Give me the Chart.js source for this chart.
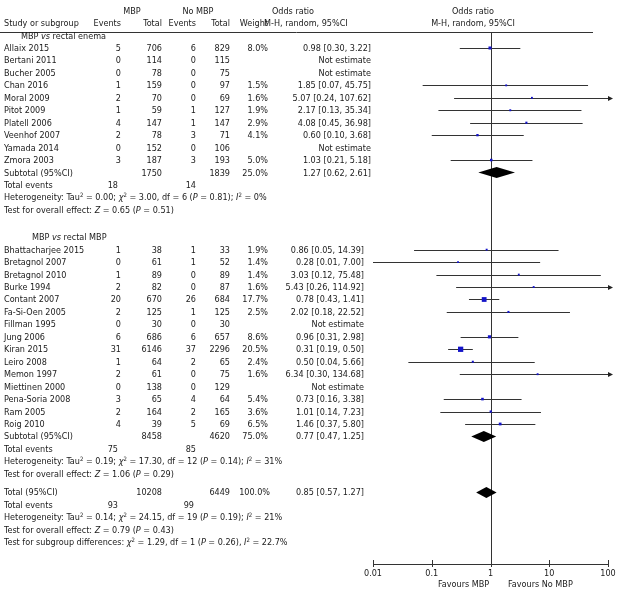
<!DOCTYPE html>
<html>
<head>
<meta charset="utf-8">
<script src="https://cdn.jsdelivr.net/npm/chart.js@4.4.1/dist/chart.umd.min.js"></script>
<style>
  body { margin: 0; background: #fff; }
  #wrap { position: relative; width: 620px; height: 591px; font-family: "DejaVu Sans Condensed", "DejaVu Sans", sans-serif; font-size: 9px; color: #1a1a1a; }
  #forest { position: absolute; left: 0; top: 0; }
  .t { position: absolute; white-space: nowrap; line-height: 12px; height: 12px; }
  sup { font-size: 6px; line-height: 0; vertical-align: 3px; }
</style>
</head>
<body>
<div id="wrap">
  <canvas id="forest" width="620" height="591"></canvas>
  <div id="cells"></div>
</div>
<script>
// MBP vs rectal enema
const group1Studies = ['Allaix 2015', 'Bertani 2011', 'Bucher 2005', 'Chan 2016', 'Moral 2009', 'Pitot 2009', 'Platell 2006', 'Veenhof 2007', 'Yamada 2014', 'Zmora 2003'];
const group1MbpEvents = [5, 0, 0, 1, 2, 1, 4, 2, 0, 3];
const group1MbpTotal = [706, 114, 78, 159, 70, 59, 147, 78, 152, 187];
const group1NoEvents = [6, 0, 0, 0, 0, 1, 1, 3, 0, 3];
const group1NoTotal = [829, 115, 75, 97, 69, 127, 147, 71, 106, 193];
const group1Weight = [8.0, null, null, 1.5, 1.6, 1.9, 2.9, 4.1, null, 5.0];
const group1OR = [0.98, null, null, 1.85, 5.07, 2.17, 4.08, 0.60, null, 1.03];
const group1Lo = [0.30, null, null, 0.07, 0.24, 0.13, 0.45, 0.10, null, 0.21];
const group1Hi = [3.22, null, null, 45.75, 107.62, 35.34, 36.98, 3.68, null, 5.18];

// MBP vs rectal MBP
const group2Studies = ['Bhattacharjee 2015', 'Bretagnol 2007', 'Bretagnol 2010', 'Burke 1994', 'Contant 2007', 'Fa-Si-Oen 2005', 'Fillman 1995', 'Jung 2006', 'Kiran 2015', 'Leiro 2008', 'Memon 1997', 'Miettinen 2000', 'Pena-Soria 2008', 'Ram 2005', 'Roig 2010'];
const group2MbpEvents = [1, 0, 1, 2, 20, 2, 0, 6, 31, 1, 2, 0, 3, 2, 4];
const group2MbpTotal = [38, 61, 89, 82, 670, 125, 30, 686, 6146, 64, 61, 138, 65, 164, 39];
const group2NoEvents = [1, 1, 0, 0, 26, 1, 0, 6, 37, 2, 0, 0, 4, 2, 5];
const group2NoTotal = [33, 52, 89, 87, 684, 125, 30, 657, 2296, 65, 75, 129, 64, 165, 69];
const group2Weight = [1.9, 1.4, 1.4, 1.6, 17.7, 2.5, null, 8.6, 20.5, 2.4, 1.6, null, 5.4, 3.6, 6.5];
const group2OR = [0.86, 0.28, 3.03, 5.43, 0.78, 2.02, null, 0.96, 0.31, 0.50, 6.34, null, 0.73, 1.01, 1.46];
const group2Lo = [0.05, 0.01, 0.12, 0.26, 0.43, 0.18, null, 0.31, 0.19, 0.04, 0.30, null, 0.16, 0.14, 0.37];
const group2Hi = [14.39, 7.00, 75.48, 114.92, 1.41, 22.52, null, 2.98, 0.50, 5.66, 134.68, null, 3.38, 7.23, 5.80];

// subtotals per group
const subgroupNames = ['MBP <i>vs</i> rectal enema', 'MBP <i>vs</i> rectal MBP'];
const subtotalMbpTotal = [1750, 8458];
const subtotalNoTotal = [1839, 4620];
const subtotalWeight = [25.0, 75.0];
const subtotalOR = [1.27, 0.77];
const subtotalLo = [0.62, 0.47];
const subtotalHi = [2.61, 1.25];
const subtotalMbpEvents = [18, 75];
const subtotalNoEvents = [14, 85];
const subtotalHeterogeneity = [
  'Heterogeneity: Tau<sup>2</sup> = 0.00; <i>χ</i><sup>2</sup> = 3.00, df = 6 (<i>P</i> = 0.81); <i>I</i><sup>2</sup> = 0%',
  'Heterogeneity: Tau<sup>2</sup> = 0.19; <i>χ</i><sup>2</sup> = 17.30, df = 12 (<i>P</i> = 0.14); <i>I</i><sup>2</sup> = 31%'
];
const subtotalEffect = [
  'Test for overall effect: <i>Z</i> = 0.65 (<i>P</i> = 0.51)',
  'Test for overall effect: <i>Z</i> = 1.06 (<i>P</i> = 0.29)'
];

// overall
const totalCounts = [10208, 6449];
const totalEvents = [93, 99];
const totalWeight = 100.0;
const totalEstimate = [0.85, 0.57, 1.27];
const totalHeterogeneity = 'Heterogeneity: Tau<sup>2</sup> = 0.14; <i>χ</i><sup>2</sup> = 24.15, df = 19 (<i>P</i> = 0.19); <i>I</i><sup>2</sup> = 21%';
const totalEffect = 'Test for overall effect: <i>Z</i> = 0.79 (<i>P</i> = 0.43)';
const subgroupTest = 'Test for subgroup differences: <i>χ</i><sup>2</sup> = 1.29, df = 1 (<i>P</i> = 0.26), <i>I</i><sup>2</sup> = 22.7%';

const xTicks = [0.01, 0.1, 1, 10, 100];

// ---- layout ----
const firstRowY = 48;     // centre of first study row
const rowPitch = 12.45;
const plotTop = 32, plotBottom = 564;
const rowPx = L => firstRowY + L * rowPitch;

const cells = document.getElementById('cells');
function cell(html, x, L, align) {
  const d = document.createElement('div');
  d.className = 't';
  d.innerHTML = html;
  d.style.top = (rowPx(L) - 6) + 'px';
  if (align === 'right') { d.style.left = (x - 150) + 'px'; d.style.width = '150px'; d.style.textAlign = 'right'; }
  else if (align === 'center') { d.style.left = (x - 75) + 'px'; d.style.width = '150px'; d.style.textAlign = 'center'; }
  else d.style.left = x + 'px';
  cells.appendChild(d);
}
const fmtCI = (o, l, h) => `${o.toFixed(2)} [${l.toFixed(2)}, ${h.toFixed(2)}]`;

// column headers
cell('MBP', 132, -3, 'center');
cell('No MBP', 198, -3, 'center');
cell('Odds ratio', 293, -3, 'center');
cell('Odds ratio', 473, -3, 'center');
cell('Study or subgroup', 4, -2);
cell('Events', 121, -2, 'right');
cell('Total', 162, -2, 'right');
cell('Events', 196, -2, 'right');
cell('Total', 230, -2, 'right');
cell('Weight', 268, -2, 'right');
cell('M-H, random, 95%CI', 264, -2);
cell('M-H, random, 95%CI', 473, -2, 'center');

const groups = [
  { studies: group1Studies, me: group1MbpEvents, mt: group1MbpTotal, ne: group1NoEvents, nt: group1NoTotal, w: group1Weight, or: group1OR, lo: group1Lo, hi: group1Hi },
  { studies: group2Studies, me: group2MbpEvents, mt: group2MbpTotal, ne: group2NoEvents, nt: group2NoTotal, w: group2Weight, or: group2OR, lo: group2Lo, hi: group2Hi }
];
const headerX = [21, 32];
const orRight = [371, 364];

const points = [];
const ciRows = [];
const diamonds = [];

let L = -1;
groups.forEach((g, gi) => {
  cell(subgroupNames[gi], headerX[gi], L);
  L += 1;
  g.studies.forEach((name, i) => {
    cell(name, 4, L);
    cell(g.me[i], 121, L, 'right');
    cell(g.mt[i], 162, L, 'right');
    cell(g.ne[i], 196, L, 'right');
    cell(g.nt[i], 230, L, 'right');
    if (g.or[i] === null) {
      cell('Not estimate', orRight[gi], L, 'right');
    } else {
      cell(g.w[i].toFixed(1) + '%', 268, L, 'right');
      cell(fmtCI(g.or[i], g.lo[i], g.hi[i]), orRight[gi], L, 'right');
      points.push({ x: g.or[i], y: L, w: g.w[i] });
      ciRows.push({ y: L, lo: g.lo[i], hi: g.hi[i] });
    }
    L += 1;
  });
  cell('Subtotal (95%CI)', 4, L);
  cell(subtotalMbpTotal[gi], 162, L, 'right');
  cell(subtotalNoTotal[gi], 230, L, 'right');
  cell(subtotalWeight[gi].toFixed(1) + '%', 268, L, 'right');
  cell(fmtCI(subtotalOR[gi], subtotalLo[gi], subtotalHi[gi]), orRight[gi], L, 'right');
  diamonds.push({ y: L, est: subtotalOR[gi], lo: subtotalLo[gi], hi: subtotalHi[gi] });
  L += 1;
  cell('Total events', 4, L);
  cell(subtotalMbpEvents[gi], 118, L, 'right');
  cell(subtotalNoEvents[gi], 196, L, 'right');
  L += 1;
  cell(subtotalHeterogeneity[gi], 4, L);
  L += 1;
  cell(subtotalEffect[gi], 4, L);
  L += 2.2;
});

L -= 0.7;
cell('Total (95%CI)', 4, L);
cell(totalCounts[0], 162, L, 'right');
cell(totalCounts[1], 230, L, 'right');
cell(totalWeight.toFixed(1) + '%', 270, L, 'right');
cell(fmtCI(totalEstimate[0], totalEstimate[1], totalEstimate[2]), 364, L, 'right');
diamonds.push({ y: L, est: totalEstimate[0], lo: totalEstimate[1], hi: totalEstimate[2] });
cell('Total events', 4, L + 1);
cell(totalEvents[0], 118, L + 1, 'right');
cell(totalEvents[1], 194, L + 1, 'right');
cell(totalHeterogeneity, 4, L + 2);
cell(totalEffect, 4, L + 3);
cell(subgroupTest, 4, L + 4);

const fav = document.createElement('div');
fav.className = 't';
fav.style.top = '578px';
fav.innerHTML = '<span style="position:absolute;left:438px">Favours MBP</span><span style="position:absolute;left:508px">Favours No MBP</span>';
cells.appendChild(fav);

// ---- plot ----
function seg(ctx, x0, y0, x1, y1) { ctx.beginPath(); ctx.moveTo(x0, y0); ctx.lineTo(x1, y1); ctx.stroke(); }

const forestLines = {
  id: 'forestLines',
  beforeDatasetsDraw(chart) {
    const { ctx, chartArea, scales: { x, y } } = chart;
    ctx.save();
    ctx.strokeStyle = '#333';
    ctx.lineWidth = 1;
    const top = Math.round(chartArea.top) + 0.5;
    seg(ctx, 0, top, 593, top);
    const x1 = Math.round(x.getPixelForValue(1)) + 0.5;
    seg(ctx, x1, chartArea.top, x1, chartArea.bottom);
    xTicks.forEach(v => {
      const px = Math.round(x.getPixelForValue(v)) + 0.5;
      seg(ctx, px, chartArea.bottom - 4, px, chartArea.bottom + 3);
    });
    ctx.fillStyle = '#222';
    ciRows.forEach(r => {
      const py = Math.round(y.getPixelForValue(r.y)) + 0.5;
      const a = x.getPixelForValue(Math.max(r.lo, x.min));
      if (r.hi > x.max) {
        const b = x.getPixelForValue(x.max) + 5;
        seg(ctx, a, py, b - 4, py);
        ctx.beginPath();
        ctx.moveTo(b, py); ctx.lineTo(b - 5, py - 2.5); ctx.lineTo(b - 5, py + 2.5);
        ctx.closePath(); ctx.fill();
      } else {
        seg(ctx, a, py, x.getPixelForValue(r.hi), py);
      }
    });
    ctx.fillStyle = '#000';
    diamonds.forEach(d => {
      const py = y.getPixelForValue(d.y);
      ctx.beginPath();
      ctx.moveTo(x.getPixelForValue(d.lo), py);
      ctx.lineTo(x.getPixelForValue(d.est), py - 5.5);
      ctx.lineTo(x.getPixelForValue(d.hi), py);
      ctx.lineTo(x.getPixelForValue(d.est), py + 5.5);
      ctx.closePath();
      ctx.fill();
    });
    ctx.restore();
  }
};

const yMin = (plotTop - firstRowY) / rowPitch;
const yMax = (plotBottom - firstRowY) / rowPitch;

new Chart(document.getElementById('forest'), {
  type: 'scatter',
  data: {
    datasets: [{
      data: points,
      pointStyle: 'rect',
      pointRadius: c => (1.6 + 0.18 * c.raw.w) / Math.SQRT2,
      pointHoverRadius: c => (1.6 + 0.18 * c.raw.w) / Math.SQRT2,
      backgroundColor: '#1414c8',
      borderWidth: 0
    }]
  },
  options: {
    responsive: false,
    animation: false,
    events: [],
    layout: { padding: { left: 373, right: 12, top: plotTop, bottom: 591 - plotBottom - 18 }, autoPadding: false },
    plugins: { legend: { display: false }, tooltip: { enabled: false } },
    scales: {
      x: {
        type: 'logarithmic',
        min: 0.01,
        max: 100,
        afterBuildTicks: axis => { axis.ticks = xTicks.map(v => ({ value: v })); },
        afterFit: axis => { axis.height = 18; },
        grid: { display: false, drawTicks: false },
        border: { display: true, color: '#333', width: 1 },
        ticks: {
          padding: 4,
          color: '#1a1a1a',
          font: { family: '"DejaVu Sans Condensed", "DejaVu Sans", sans-serif', size: 9 },
          maxRotation: 0,
          callback: v => String(v)
        }
      },
      y: {
        type: 'linear',
        display: false,
        reverse: true,
        min: yMin,
        max: yMax
      }
    }
  },
  plugins: [forestLines]
});
</script>
</body>
</html>
